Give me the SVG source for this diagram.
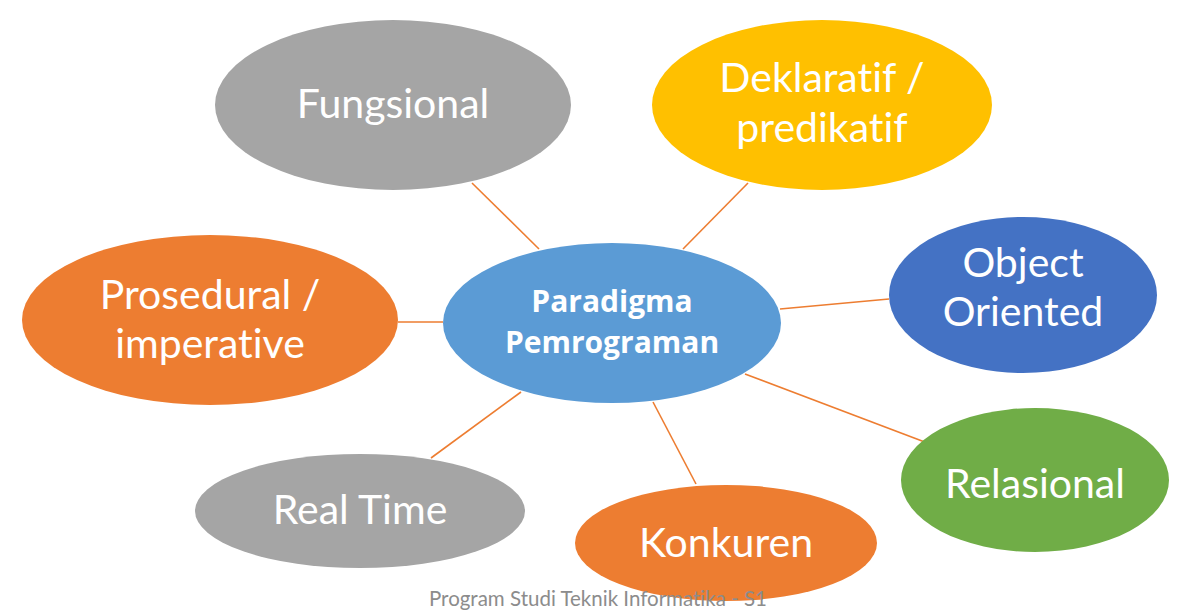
<svg xmlns="http://www.w3.org/2000/svg" width="1185" height="615" viewBox="0 0 1185 615">
<style>
text{font-variant-ligatures:none;font-feature-settings:"liga" 0}
.t{font-family:Lato,"Open Sans","Liberation Sans",sans-serif;fill:#fff;font-size:41px;text-anchor:middle}
.c{font-family:"Open Sans",Lato,"Liberation Sans",sans-serif;fill:#fff;font-size:30px;font-weight:bold;text-anchor:middle}
.f{font-family:Lato,"Liberation Sans",sans-serif;fill:#8c8c8c;font-size:20.5px;text-anchor:middle}
#edges line{stroke:#ED7D31;stroke-width:1.6}
</style>
<rect width="1185" height="615" fill="#fff"/>
<g id="edges">
<line x1="472" y1="183" x2="539" y2="249"/>
<line x1="748" y1="183" x2="683" y2="249"/>
<line x1="889" y1="299" x2="780" y2="309"/>
<line x1="930" y1="444" x2="745" y2="374"/>
<line x1="696" y1="484" x2="653" y2="402"/>
<line x1="431" y1="458" x2="521" y2="392"/>
<line x1="398" y1="322" x2="443" y2="322"/>
</g>
<g id="fungsional"><ellipse cx="393" cy="105" rx="178" ry="85" fill="#A5A5A5"/><text class="t" x="393" y="118">Fungsional</text></g>
<g id="deklaratif"><ellipse cx="822" cy="105" rx="170" ry="85" fill="#FFC000"/><text class="t" x="822" y="92">Deklaratif /</text><text class="t" x="822" y="142">predikatif</text></g>
<g id="object"><ellipse cx="1023" cy="295" rx="134" ry="78" fill="#4472C4"/><text class="t" x="1023" y="277">Object</text><text class="t" x="1023" y="326">Oriented</text></g>
<g id="relasional"><ellipse cx="1035" cy="480" rx="134" ry="72" fill="#70AD47"/><text class="t" x="1035" y="498">Relasional</text></g>
<g id="konkuren"><ellipse cx="726" cy="543" rx="151" ry="58" fill="#ED7D31"/><text class="t" x="726" y="557">Konkuren</text></g>
<g id="realtime"><ellipse cx="360" cy="511" rx="165" ry="57" fill="#A5A5A5"/><text class="t" x="360" y="524">Real Time</text></g>
<g id="prosedural"><ellipse cx="210" cy="320" rx="188" ry="85" fill="#ED7D31"/><text class="t" x="210" y="309">Prosedural /</text><text class="t" x="210" y="358">imperative</text></g>
<g id="center"><ellipse cx="612" cy="323" rx="169" ry="80" fill="#5B9BD5"/><text class="c" x="612" y="312">Paradigma</text><text class="c" x="612" y="353">Pemrograman</text></g>
<text class="f" x="598" y="606">Program Studi Teknik Informatika - S1</text>
</svg>
